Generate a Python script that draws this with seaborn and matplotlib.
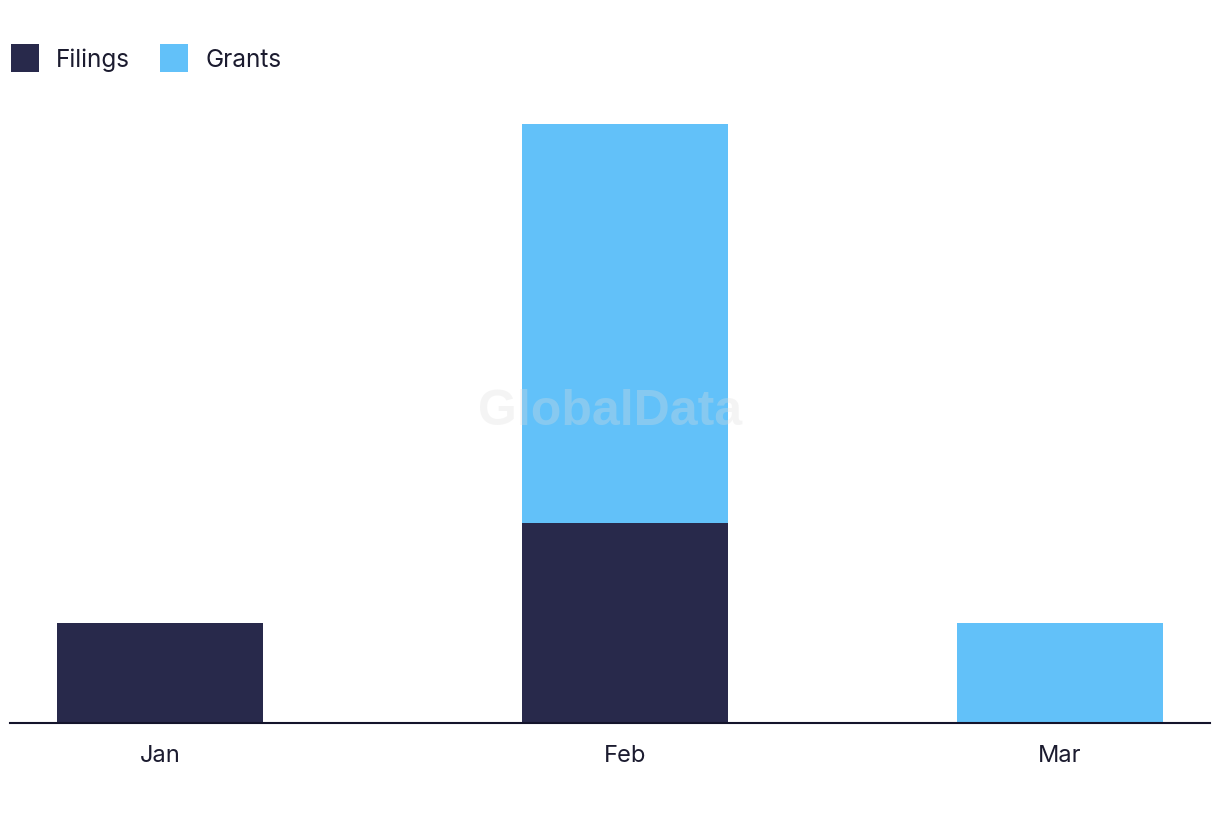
import matplotlib
matplotlib.use("Agg")
import matplotlib.pyplot as plt
from matplotlib.lines import Line2D
import numpy as np
import pandas as pd
import seaborn as sb

# data
months = ["Jan", "Feb", "Mar"]
filings = [1, 2, 0]
grants = [0, 4, 1]

# layout: slot centres on the x axis (the source spaces them unevenly)
slots = [0.0, 1.0333, 2.0]

navy = "#28294b"
sky = "#62c1f9"

df = pd.DataFrame({"Month": months, "Filings": filings, "Grants": grants, "slot": slots})
df["Total"] = df["Filings"] + df["Grants"]

sb.set_style("white")
plt.rcParams["font.family"] = ["Inter", "DejaVu Sans"]

fig = plt.figure(figsize=(12.2, 8.22), dpi=100)
ax = fig.add_axes([10 / 1220, 99 / 822, 1200 / 1220, 623 / 822])

# stacked: total in light blue, filings drawn on top of it
bar_kw = dict(native_scale=True, width=0.4736, saturation=1, linewidth=0, edgecolor="none", ax=ax)
sb.barplot(data=df, x="slot", y="Total", color=sky, **bar_kw)
sb.barplot(data=df, x="slot", y="Filings", color=navy, **bar_kw)

ax.set_xlim(-0.333, 2.333)
ax.set_ylim(0, 6.24)
ax.set_xticks(slots)
ax.set_xticklabels(months)
ax.set_xlabel("")
ax.set_ylabel("")
ax.set_yticks([])
for side in ["top", "right", "left"]:
    ax.spines[side].set_visible(False)
ax.spines["bottom"].set_color("#14142b")
ax.spines["bottom"].set_linewidth(1.5)
ax.tick_params(axis="x", length=0, pad=16, labelsize=17, labelcolor="#1b1b2f")

ax.text(0.5, 0.5, "GlobalData", transform=ax.transAxes, ha="center", va="center",
        fontsize=36, fontweight="bold", color="#dddddd", alpha=0.3,
        family="Liberation Sans", zorder=5)

handles = [Line2D([], [], marker="s", linestyle="none", markersize=20,
                  markerfacecolor=c, markeredgewidth=0, label=l)
           for c, l in [(navy, "Filings"), (sky, "Grants")]]
fig.legend(handles=handles, loc="center left", bbox_to_anchor=(10 / 1220, 1 - 60 / 822), ncol=2,
           frameon=False, fontsize=17.5, handlelength=1.2, borderpad=0, borderaxespad=0,
           handletextpad=0.7, columnspacing=1.2, labelcolor="#1b1b2f")

fig.savefig("out.png", dpi=100)
